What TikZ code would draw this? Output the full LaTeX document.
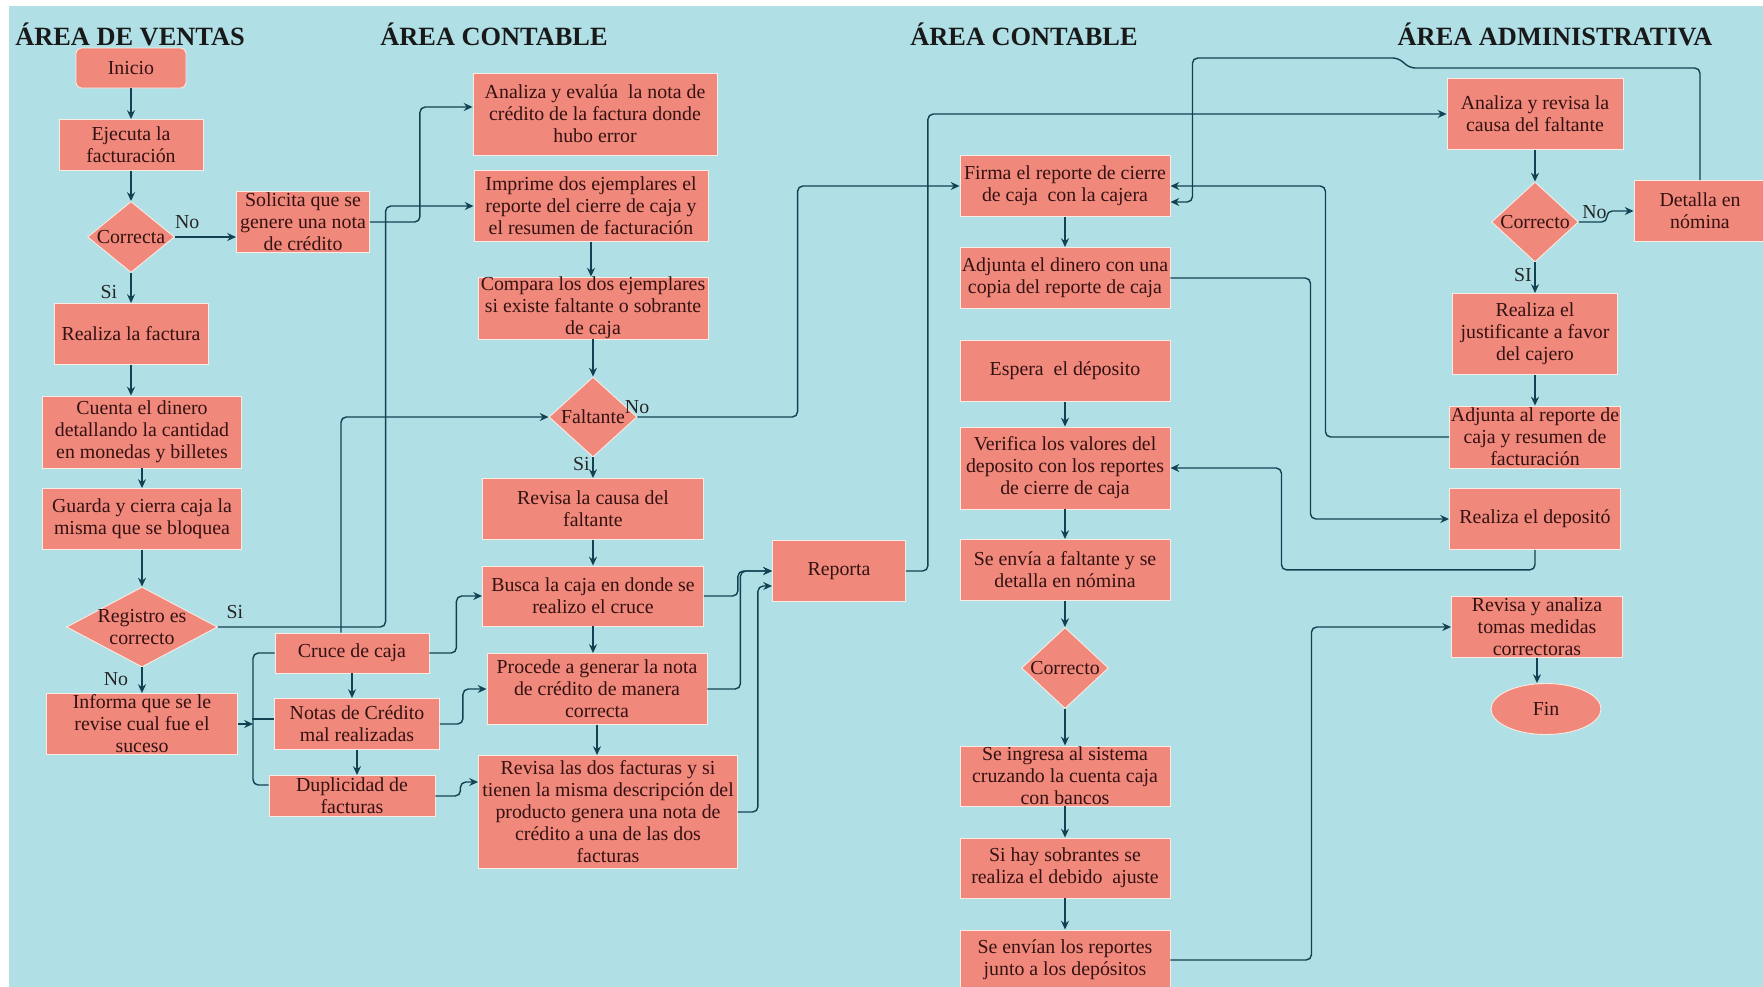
\documentclass[tikz,border=0pt]{standalone}
\usepackage{fontspec}
\setmainfont{Liberation Serif}
\usetikzlibrary{shapes.geometric,calc,arrows.meta}
\definecolor{fondo}{RGB}{176,224,230}
\definecolor{salmon}{RGB}{240,137,124}
\definecolor{borde}{RGB}{250,236,228}
\definecolor{tinta}{RGB}{52,18,18}
\definecolor{trazo}{RGB}{18,66,82}
\begin{document}
\begin{tikzpicture}[x=.2mm,y=-.2mm,
  caja/.style 2 args={draw=borde,line width=.5pt,fill=salmon,text=tinta,align=center,inner sep=0pt,
    minimum width=#1*.2mm,minimum height=#2*.2mm,font=\fontsize{11.3}{12.5}\selectfont},
  rombo/.style 2 args={caja={#1}{#2},diamond,shape aspect=1.2},
  flecha/.style={draw=trazo,line width=.8pt,rounded corners=3pt,-{Stealth[length=5pt,width=4.5pt]}},
  linea/.style={draw=trazo,line width=.8pt,rounded corners=3pt},
  etiq/.style={text=black!85,inner sep=1.5pt,font=\fontsize{11.3}{12}\selectfont},
  titulo/.style={anchor=base,text=black!90,font=\fontsize{15}{16}\selectfont\bfseries}]
\fill[white] (0,0) rectangle (1763,987); \fill[fondo] (9,6) rectangle (1763,987);
\useasboundingbox (0,0) rectangle (1763,987);
\node[titulo] (tVentas) at (130,45) {ÁREA DE VENTAS}; \node[titulo] (tContA) at (494,45) {ÁREA CONTABLE};
\node[titulo] (tContB) at (1024,45) {ÁREA CONTABLE}; \node[titulo] (tAdmin) at (1555,45) {ÁREA ADMINISTRATIVA};
\node[caja={110}{40},rounded corners=3pt] (inicio) at (131,68) {Inicio};
\node[caja={144}{51}] (ejecuta) at (131,145) {Ejecuta la\\facturación};
\node[rombo={87}{71}] (correcta) at (131,237) {Correcta};
\node[caja={133}{61}] (solicita) at (303,222) {Solicita que se\\genere una nota\\de crédito};
\node[caja={154}{61}] (realiza) at (131,334) {Realiza la factura};
\node[caja={199}{72}] (cuenta) at (142,432) {Cuenta el dinero\\detallando la cantidad\\en monedas y billetes};
\node[caja={199}{61}] (guarda) at (142,519) {Guarda y cierra caja la\\misma que se bloquea};
\node[rombo={151}{80},shape aspect=1.9,inner sep=-4pt] (registro) at (142,627) {Registro es\\correcto};
\node[caja={191}{61}] (informa) at (142,724) {Informa que se le\\revise cual fue el\\suceso};
\node[caja={154}{40}] (cruce) at (352,653) {Cruce de caja};
\node[caja={165}{51}] (notas) at (357,724) {Notas de Crédito\\mal realizadas};
\node[caja={166}{41}] (duplicidad) at (352,796) {Duplicidad de\\facturas};
\coordinate (tronco) at (253,653);
\node[caja={244}{82}] (analiza) at (595,114) {Analiza y evalúa\ \ la nota de\\crédito de la factura donde\\hubo error};
\node[caja={234}{71}] (imprime) at (591,206) {Imprime dos ejemplares el\\reporte del cierre de caja y\\el resumen de facturación};
\node[caja={230}{61}] (compara) at (593,308) {Compara los dos ejemplares\\si existe faltante o sobrante\\de caja};
\node[rombo={88}{80}] (faltante) at (593,417) {Faltante};
\node[caja={221}{61}] (revcausa) at (593,509) {Revisa la causa del\\faltante};
\node[caja={221}{60}] (busca) at (593,596) {Busca la caja en donde se\\realizo el cruce};
\node[caja={220}{71}] (procede) at (597,689) {Procede a generar la nota\\de crédito de manera\\correcta};
\node[caja={259}{113}] (revfact) at (608,812) {Revisa las dos facturas y si\\tienen la misma descripción del\\producto genera una nota de\\crédito a una de las dos\\facturas};
\node[caja={133}{61}] (reporta) at (839,571) {Reporta};
\node[caja={210}{61}] (firma) at (1065,186) {Firma el reporte de cierre\\de caja\ \ con la cajera};
\node[caja={210}{61}] (adjdin) at (1065,278) {Adjunta el dinero con una\\copia del reporte de caja};
\node[caja={210}{61}] (espera) at (1065,371) {Espera\ \ el déposito};
\node[caja={210}{82}] (verifica) at (1065,468) {Verifica los valores del\\deposito con los reportes\\de cierre de caja};
\node[caja={210}{61}] (envia) at (1065,570) {Se envía a faltante y se\\detalla en nómina};
\node[rombo={87}{81}] (correcto) at (1065,668) {Correcto};
\node[caja={210}{60}] (ingresa) at (1065,776) {Se ingresa al sistema\\cruzando la cuenta caja\\con bancos};
\node[caja={210}{60}] (sobra) at (1065,868) {Si hay sobrantes se\\realiza el debido\ \ ajuste};
\node[caja={210}{60}] (envian) at (1065,960) {Se envían los reportes\\junto a los depósitos};
\node[caja={176}{71}] (anarev) at (1535,114) {Analiza y revisa la\\causa del faltante};
\node[rombo={87}{80}] (correctoAdm) at (1535,222) {Correcto};
\node[caja={132}{61}] (detalla) at (1700,211) {Detalla en\\nómina};
\node[caja={165}{81}] (justif) at (1535,334) {Realiza el\\justificante a favor\\del cajero};
\node[caja={171}{62}] (adjrep) at (1535,437) {Adjunta al reporte de\\caja y resumen de\\facturación};
\node[caja={171}{61}] (deposito) at (1535,519) {Realiza el depositó};
\node[caja={171}{61}] (medidas) at (1537,627) {Revisa y analiza\\tomas medidas\\correctoras};
\node[caja={110}{51},ellipse] (fin) at (1546,709) {Fin};
\draw[flecha] (inicio) -- (ejecuta); \draw[flecha] (ejecuta) -- (correcta);
\draw[flecha] (correcta) -- node[etiq,left=6pt,pos=.65] (siA) {Si} (realiza);
\draw[flecha] (correcta.east) -- node[etiq,above=3pt,pos=.2] (noA) {No} (correcta.east -| solicita.west);
\draw[flecha] (realiza) -- (realiza |- cuenta.north); \draw[flecha] (cuenta) -- (guarda); \draw[flecha] (guarda) -- (registro);
\draw[flecha] (registro) -- node[etiq,left=6pt,pos=.45] (noB) {No} (informa);
\draw[flecha] (solicita.east) -- ++(50,0) |- ($(analiza.west)+(0,-7)$);
\draw[flecha] (registro.east) node[etiq,above right=3pt] (siB) {Si} -| ($(imprime.west)+(-88,0)$) -- (imprime.west);
\draw[flecha] ($(cruce.north)+(-11,0)$) |- (faltante.west);
\draw[flecha] (informa.east) -- (informa.east -| tronco);
\draw[linea] (cruce.west) -- (tronco) |- ($(duplicidad.west)+(0,-11)$); \draw[linea] ($(notas.west)+(0,-5)$) -- ++(-22,0);
\draw[flecha] (cruce) -- (cruce |- notas.north); \draw[flecha] (notas) -- (notas |- duplicidad.north);
\draw[flecha] (cruce.east) -- ++(27,0) |- (busca.west);
\draw[flecha] (notas.east) -- ++(23,0) |- (procede.west);
\draw[flecha] (duplicidad.east) -- ++(25,0) |- ($(revfact.west)+(0,-30)$);
\draw[flecha] (imprime) -- (imprime |- compara.north); \draw[flecha] (compara) -- (compara |- faltante.north);
\draw[flecha] (faltante) -- node[etiq,left,pos=.3] (siC) {Si} (revcausa);
\draw[flecha] (revcausa) -- (busca); \draw[flecha] (busca) -- (busca |- procede.north); \draw[flecha] (procede) -- (procede |- revfact.north);
\draw[flecha] (faltante.east) node[etiq,above right,xshift=-9pt] (noC) {No} -| ($(firma.west)+(-162,0)$) -- (firma.west);
\draw[flecha] (busca.east) -- ++(34,0) |- (reporta.west);
\draw[flecha] (procede.east) -- ++(33,0) |- (reporta.west);
\draw[flecha] (revfact.east) -- ++(20,0) |- ($(reporta.west)+(0,15)$);
\draw[flecha] (reporta.east) -- ++(22,0) |- (anarev.west);
\draw[flecha] (firma) -- (adjdin); \draw[flecha] (espera) -- (verifica); \draw[flecha] (verifica) -- (envia);
\draw[flecha] (envia) -- (correcto); \draw[flecha] (correcto) -- (ingresa); \draw[flecha] (ingresa) -- (sobra); \draw[flecha] (sobra) -- (envian);
\draw[flecha] (adjdin.east) -- ++(140,0) |- (deposito.west);
\draw[flecha] (deposito.south) -- ++(0,20) -| ($(verifica.east)+(111,0)$) -- (verifica.east);
\draw[flecha] (envian.east) -- ++(141,0) |- (medidas.west);
\draw[flecha] (adjrep.west) -| ($(firma.east)+(155,0)$) -- (firma.east);
\draw[flecha] (detalla.north) |- (1410,68) -- (1398,58) -| ($(firma.east)+(22,16)$) -- ($(firma.east)+(0,16)$);
\draw[flecha] (anarev) -- (correctoAdm); \draw[flecha] (justif) -- (adjrep);
\draw[flecha] (correctoAdm) -- node[etiq,left,pos=.4] (siD) {SI} (justif);
\draw[flecha] (correctoAdm.east) node[etiq,above right] (noD) {No} -- ++(28,0) |- (detalla.west);
\draw[flecha] (medidas) -- (medidas |- fin.north);
\end{tikzpicture}
\end{document}
